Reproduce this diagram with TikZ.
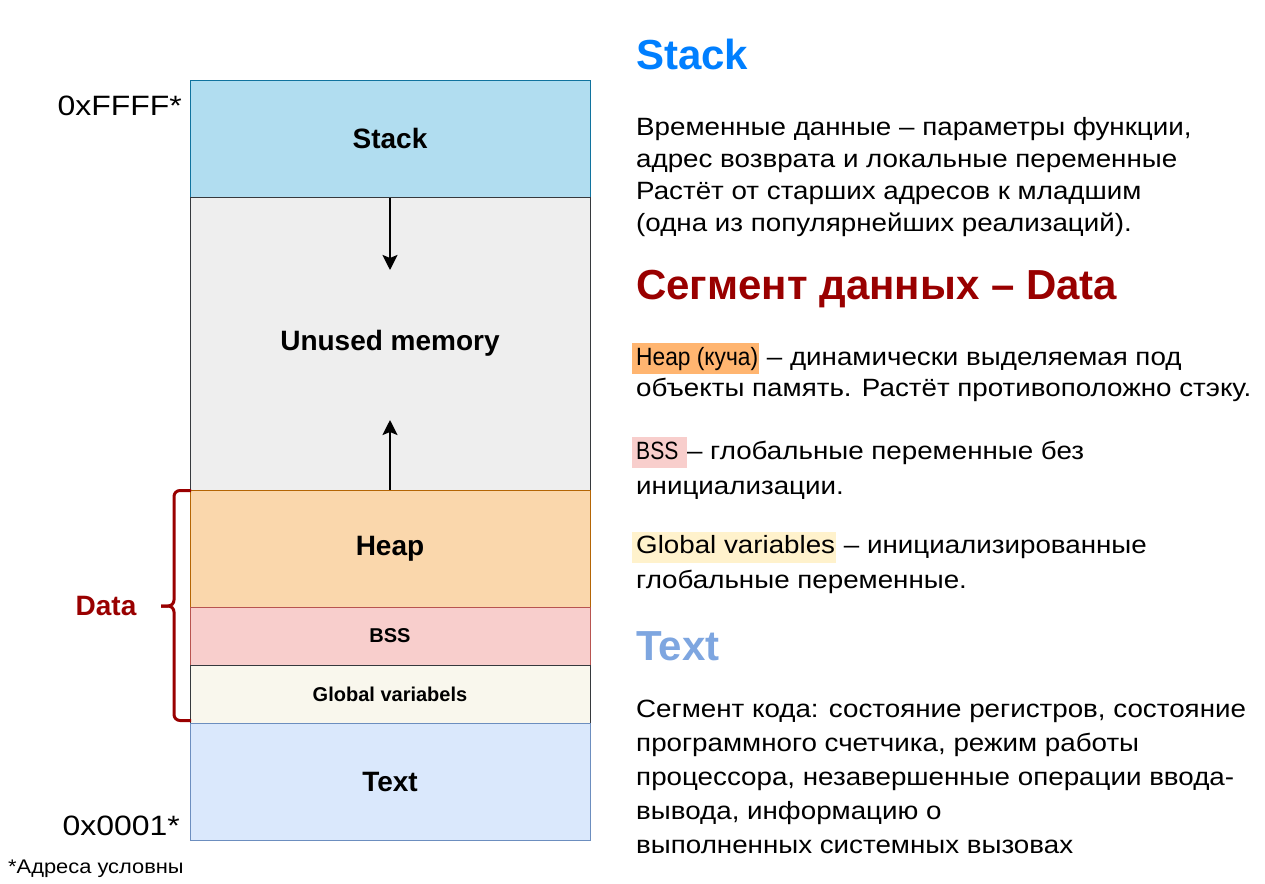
\documentclass[tikz,border=0pt]{standalone}
\usepackage{fontspec}
\usepackage{graphicx}
\setmainfont{Liberation Sans}
\newfontfamily\bodyfont{Liberation Sans}[FakeStretch=1.11]
\newfontfamily\addrfont{Liberation Sans}[FakeStretch=1.14]
\usetikzlibrary{arrows.meta}
\definecolor{stackf}{HTML}{B1DDF0}\definecolor{stackd}{HTML}{10739E}
\definecolor{unusedf}{HTML}{EEEEEE}\definecolor{darkd}{HTML}{36393D}
\definecolor{heapf}{HTML}{FAD7AC}\definecolor{heapd}{HTML}{B46504}
\definecolor{bssf}{HTML}{F8CECC}\definecolor{bssd}{HTML}{B85450}
\definecolor{globf}{HTML}{F9F7ED}
\definecolor{textf}{HTML}{DAE8FC}\definecolor{textd}{HTML}{6C8EBF}
\definecolor{dred}{HTML}{990000}
\definecolor{hblue}{HTML}{007FFF}
\definecolor{tblue}{HTML}{7EA6E0}
\definecolor{hlheap}{HTML}{FFB570}
\definecolor{hlbss}{HTML}{F8CECC}
\definecolor{hlglob}{HTML}{FFF2CC}
\newcommand{\hl}[2]{\kern-4pt{\setlength{\fboxsep}{0pt}\colorbox{#1}{\kern4pt\vrule height 22pt depth 9pt width 0pt #2\kern1pt}}}
\begin{document}
\begin{tikzpicture}[x=1pt,y=-1pt,
  seg/.style={draw, line width=1pt, minimum width=400pt, inner sep=0pt, font=\bfseries\fontsize{28}{32}\selectfont},
  segsmall/.style={seg, font=\bfseries\fontsize{20}{24}\selectfont},
  arr/.style={line width=2.5pt, -{Stealth[length=15pt,width=15pt,inset=3pt]}},
  addr/.style={anchor=east, font=\addrfont\fontsize{28}{32}\selectfont, inner sep=0pt},
  head/.style={anchor=west, inner sep=0pt, font=\bfseries\fontsize{42}{50}\selectfont},
  body/.style={anchor=north west, align=left, inner sep=0pt, font=\bodyfont\fontsize{25}{32}\selectfont},
  brace/.style={draw=dred, line width=3pt, rounded corners=6pt}
]
\useasboundingbox (0,0) rectangle (1265,883);
% segments
\node[seg, fill=stackf, draw=stackd, minimum height=117pt] (stack) at (390,138.5) {Stack};
\node[seg, fill=unusedf, draw=darkd, minimum height=293pt] (unused) at (390,343.5) {\raisebox{-2pt}{Unused memory}};
\node[seg, fill=heapf, draw=heapd, minimum height=117pt] (heap) at (390,548.5) {Heap};
\node[segsmall, fill=bssf, draw=bssd, minimum height=58pt] (bss) at (390,636) {BSS};
\node[segsmall, fill=globf, draw=darkd, minimum height=58pt] (glob) at (390,694) {Global variabels};
\node[seg, fill=textf, draw=textd, minimum height=117pt] (text) at (390,781.5) {Text};
% arrows
\coordinate (dn) at (390,270);
\coordinate (up) at (390,420);
\draw[arr] (stack.south) -- (dn);
\draw[arr] (heap.north) -- (up);
% brace
\coordinate (bt) at (191,490.5);
\coordinate (bb) at (191,720.5);
\coordinate (tip) at (161,606);
\draw[brace] (bt) -- (174,490.5) -- (174,606) -- (tip);
\draw[brace] (tip) -- (174,606) -- (174,720.5) -- (bb);
\node[font=\bfseries\fontsize{28}{32}\selectfont, text=dred, inner sep=0pt] (data) at (106,606) {Data};
% addresses
\node[addr] (hi) at (182,106) {0xFFFF*};
\node[addr] (lo) at (180,826) {0x0001*};
\node[anchor=west, inner sep=0pt, font=\bodyfont\fontsize{19.7}{23}\selectfont] (note) at (8,869) {*Адреса условны};
% right side
\node[head, text=hblue] (h1) at (636,54) {Stack};
\node[body] (p1) at (636,117) {Временные данные – параметры функции,\\адрес возврата и локальные переменные\\Растёт от старших адресов к младшим\\(одна из популярнейших реализаций).};
\node[head, text=dred] (h2) at (636,289) {Сегмент данных – Data};
\node[body, font=\bodyfont\fontsize{25}{31}\selectfont] (p2) at (636,343) {\hl{hlheap}{\scalebox{0.82}[1]{Heap (куча)}} – динамически выделяемая под\\объекты память. Растёт противоположно стэку.};
\node[body, font=\bodyfont\fontsize{25}{35}\selectfont] (p3) at (636,437) {\hl{hlbss}{\scalebox{0.76}[1]{BSS} }– глобальные переменные без\\инициализации.};
\node[body, font=\bodyfont\fontsize{25}{35}\selectfont] (p4) at (636,531.5) {\hl{hlglob}{Global variables} – инициализированные\\глобальные переменные.};
\node[head, text=tblue] (h3) at (636,646) {Text};
\node[body, font=\bodyfont\fontsize{25}{34}\selectfont] (p5) at (636,700) {Сегмент кода: состояние регистров, состояние\\программного счетчика, режим работы\\процессора, незавершенные операции ввода-\\вывода, информацию о\\выполненных системных вызовах};
\end{tikzpicture}
\end{document}
